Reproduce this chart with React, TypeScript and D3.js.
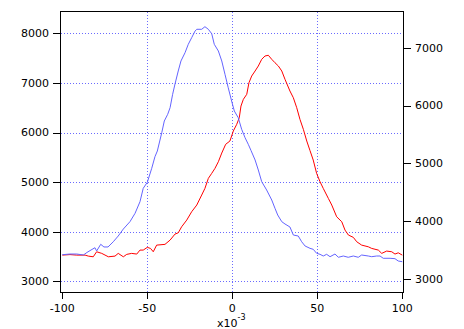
import React from 'react';
import * as d3 from 'd3';

// x values are in units of 1e-3
const blueX = [-100, -95.5, -91.5, -87.6, -85.5, -83.1, -80.8, -79.8, -77.4, -75.5, -73.1, -70, -67.1, -64.1, -60.2, -57.2, -54.3, -52.4, -50, -47.4, -45.5, -44.1, -41.5, -40, -38, -36.6, -35.1, -33.7, -31.8, -30.2, -27.8, -25.9, -23.9, -21.9, -20.9, -18, -16.1, -14.1, -12.1, -10.6, -8.2, -6.2, -4.3, -2.4, -0.4, 1.2, 3.5, 5.5, 7.5, 9.4, 11, 13.4, 15.3, 17.3, 20.2, 23.2, 25.1, 26.7, 29.1, 31, 33.9, 35.9, 38.8, 40.8, 42.8, 45.7, 47.6, 49.6, 51.6, 53.5, 55.5, 57.5, 60.4, 62.4, 65.3, 68.2, 71.2, 74.1, 76.1, 80, 82, 84.9, 86.9, 88.8, 92.8, 95.7, 97.6, 100];
const blueY = [3536, 3550, 3550, 3530, 3581, 3631, 3677, 3611, 3746, 3692, 3692, 3798, 3913, 4054, 4202, 4371, 4605, 4875, 4996, 5278, 5512, 5627, 5996, 6232, 6367, 6500, 6770, 6978, 7240, 7442, 7609, 7778, 7911, 8046, 8081, 8081, 8133, 8081, 7992, 7778, 7643, 7442, 7173, 6903, 6635, 6433, 6298, 6065, 5895, 5762, 5637, 5446, 5244, 5008, 4841, 4639, 4472, 4337, 4202, 4155, 4095, 3933, 3913, 3798, 3712, 3665, 3645, 3565, 3544, 3510, 3544, 3496, 3550, 3484, 3510, 3484, 3510, 3484, 3530, 3510, 3496, 3510, 3510, 3464, 3464, 3456, 3409, 3395];

const redX = [-100, -95.5, -91.5, -86.6, -84.7, -81.8, -79.8, -76.8, -72.9, -69, -67.1, -64.1, -62.1, -59.2, -56.2, -54.3, -52.4, -50, -48.1, -46.5, -44.5, -39.6, -36.6, -33.7, -31.8, -29.8, -26.8, -23.9, -20.9, -18, -16.1, -14.1, -12.1, -10.2, -8.2, -6.2, -3.9, -1.4, 0.6, 2.6, 4.1, 5.1, 6.5, 8.5, 9.8, 11.4, 13.4, 15.3, 17.3, 19.2, 21.2, 23.2, 25.1, 27.1, 29.1, 31, 33.9, 35.9, 37.9, 39.8, 41.8, 43.8, 45.7, 47.6, 49.6, 51.6, 53.5, 56.5, 58.5, 61.4, 64.4, 66.3, 68.3, 71.2, 73.2, 76.1, 80, 82, 85.9, 87.9, 90.8, 93.8, 95.7, 97.6, 100];
const redY = [3413, 3422, 3413, 3413, 3396, 3384, 3471, 3443, 3384, 3396, 3443, 3384, 3426, 3443, 3431, 3500, 3500, 3547, 3529, 3471, 3586, 3599, 3673, 3777, 3799, 3903, 4019, 4163, 4279, 4452, 4567, 4740, 4827, 4913, 5028, 5178, 5329, 5386, 5559, 5675, 5789, 5991, 6107, 6194, 6394, 6510, 6597, 6683, 6799, 6856, 6869, 6799, 6740, 6683, 6597, 6453, 6251, 6135, 5962, 5761, 5588, 5386, 5221, 5057, 4827, 4682, 4567, 4394, 4279, 4076, 3990, 3846, 3760, 3720, 3644, 3586, 3557, 3529, 3500, 3443, 3483, 3471, 3431, 3453, 3413];

const xTicks = [-100, -50, 0, 50, 100];
const xGrid = [-50, 0, 50];
const leftTicks = [3000, 4000, 5000, 6000, 7000, 8000];
const rightTicks = [3000, 4000, 5000, 6000, 7000];

const W = 464;
const H = 329;
const frame = { left: 60, right: 403, top: 11, bottom: 292 };
const font = '"DejaVu Sans", sans-serif';
const gridColor = '#6a6aff';

const App: React.FC = () => {
  const x = d3.scaleLinear().domain([-100, 100]).range([62.3, 402.3]);
  const yL = d3.scaleLinear().domain([3000, 8000]).range([281.3, 33.3]);
  const yR = d3.scaleLinear().domain([3000, 7000]).range([279, 47.7]);

  const blueLine = d3
    .line<number>()
    .x((_, i) => x(blueX[i]))
    .y((d) => yL(d));
  const redLine = d3
    .line<number>()
    .x((_, i) => x(redX[i]))
    .y((d) => yR(d));

  const px = (v: number) => Math.round(v) + 0.5;

  return (
    <svg width={W} height={H} style={{ position: 'absolute', left: 0, top: 0, background: '#fff' }}>
      {/* grid */}
      <g stroke={gridColor} strokeWidth={1} strokeDasharray="1,2" shapeRendering="crispEdges">
        {leftTicks.map((t) => (
          <line key={'h' + t} x1={frame.left + 1} x2={frame.right} y1={px(yL(t))} y2={px(yL(t))} />
        ))}
        {xGrid.map((t) => (
          <line key={'v' + t} x1={px(x(t))} x2={px(x(t))} y1={frame.top + 1} y2={frame.bottom} />
        ))}
      </g>

      {/* traces */}
      <path d={redLine(redY) || ''} fill="none" stroke="#ff0000" strokeWidth={1} />
      <path d={blueLine(blueY) || ''} fill="none" stroke="#6464ff" strokeWidth={1} />

      {/* frame and axes */}
      <g stroke="#000" strokeWidth={1} shapeRendering="crispEdges">
        <line x1={frame.left} x2={frame.right + 1} y1={frame.top + 0.5} y2={frame.top + 0.5} />
        <line x1={frame.left} x2={frame.right + 1} y1={frame.bottom + 0.5} y2={frame.bottom + 0.5} />
        <line x1={frame.left + 0.5} x2={frame.left + 0.5} y1={frame.top} y2={frame.bottom + 1} />
        <line x1={frame.right + 0.5} x2={frame.right + 0.5} y1={frame.top} y2={frame.bottom + 1} />
        {leftTicks.map((t) => (
          <line key={'lt' + t} x1={frame.left - 7} x2={frame.left} y1={px(yL(t))} y2={px(yL(t))} />
        ))}
        {rightTicks.map((t) => (
          <line key={'rt' + t} x1={frame.right + 1} x2={frame.right + 8} y1={px(yR(t))} y2={px(yR(t))} />
        ))}
        {xTicks.map((t) => (
          <line key={'xt' + t} x1={px(x(t))} x2={px(x(t))} y1={frame.bottom + 1} y2={frame.bottom + 7} />
        ))}
      </g>

      {/* labels */}
      <g fontFamily={font} fontSize={11} fill="#000">
        {leftTicks.map((t) => (
          <text key={'ll' + t} x={frame.left - 11} y={yL(t)} dy="0.36em" textAnchor="end">
            {t}
          </text>
        ))}
        {rightTicks.map((t) => (
          <text key={'rl' + t} x={frame.right + 12} y={yR(t)} dy="0.36em" textAnchor="start">
            {t}
          </text>
        ))}
        {xTicks.map((t) => (
          <text key={'xl' + t} x={x(t)} y={312} textAnchor="middle">
            {t}
          </text>
        ))}
        <text x={217} y={327}>
          x10
          <tspan fontSize={8} dy={-7}>
            -3
          </tspan>
        </text>
      </g>
    </svg>
  );
};

export default App;
